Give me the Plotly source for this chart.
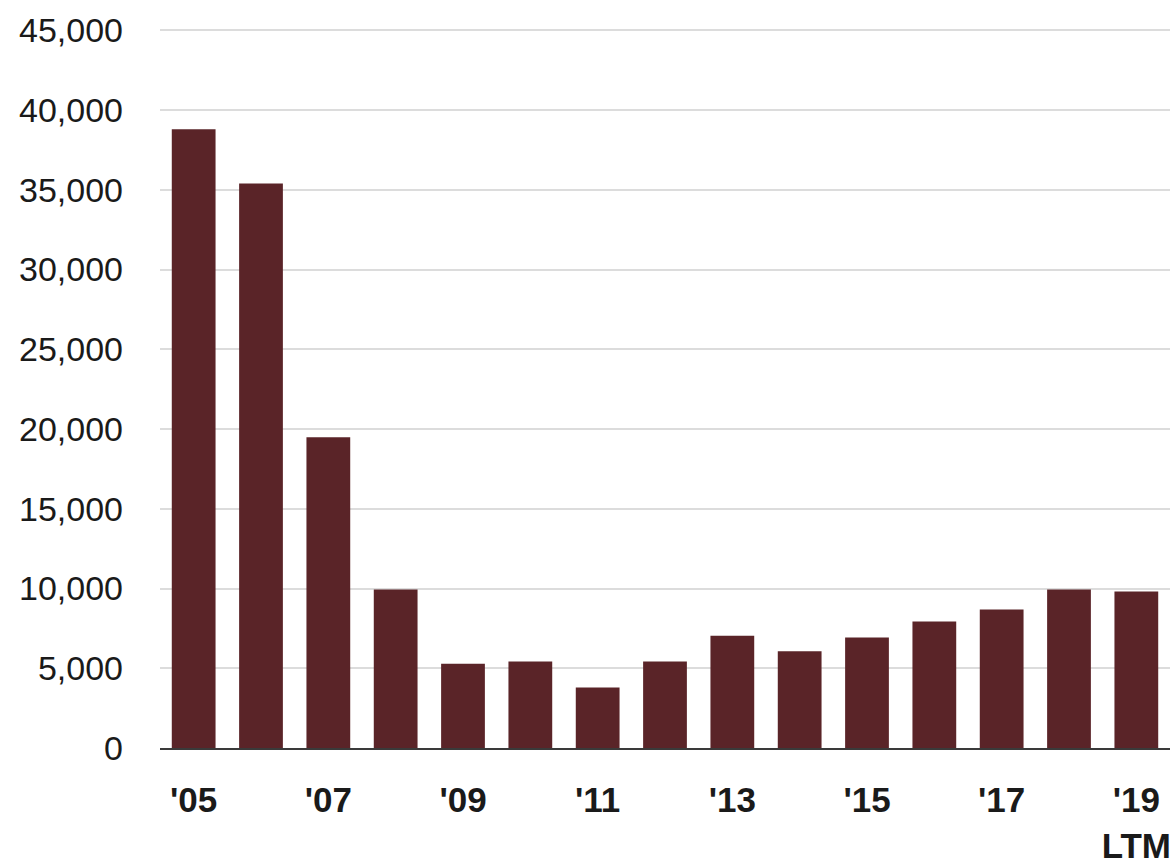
import plotly.graph_objects as go

categories = ["'05", "'06", "'07", "'08", "'09", "'10", "'11", "'12", "'13", "'14",
              "'15", "'16", "'17", "'18", "'19<br>LTM"]
values = [38800, 35400, 19480, 9940, 5280, 5430, 3800, 5430, 7040, 6070,
          6930, 7940, 8690, 9940, 9820]
shown_ticks = ["'05", "'07", "'09", "'11", "'13", "'15", "'17", "'19<br>LTM"]
y_ticks = [0, 5000, 10000, 15000, 20000, 25000, 30000, 35000, 40000, 45000]

fig = go.Figure(go.Bar(x=categories, y=values, marker_color="#5a2428",
                       marker_line_width=0))

fig.update_layout(
    width=1173, height=866,
    margin=dict(l=160, r=3, t=28, b=118),
    plot_bgcolor="white", paper_bgcolor="white",
    bargap=0.35, showlegend=False,
    font=dict(family="Arial, Liberation Sans, sans-serif", color="#1a1a1a"),
)
fig.update_xaxes(
    type="category", range=[-0.5, 14.5], automargin=False,
    tickmode="array", tickvals=shown_ticks, ticktext=shown_ticks,
    tickfont=dict(size=35, family="Arial, Liberation Sans, sans-serif", weight="bold"),
    showline=True, linecolor="#3a3a3a", linewidth=2,
    ticks="", showgrid=False, ticklabelstandoff=20,
)
fig.update_yaxes(
    range=[0, 45150], tickvals=y_ticks, automargin=False,
    tickformat=",d", tickfont=dict(size=34),
    showgrid=True, gridcolor="#dcdcdc", gridwidth=1.5,
    zeroline=False, showline=False, ticks="", ticklabelstandoff=36,
)

fig.write_html(
    "out.html",
    config={"displayModeBar": False},
    post_script="document.body.style.margin='0';document.body.style.overflow='hidden';",
)
